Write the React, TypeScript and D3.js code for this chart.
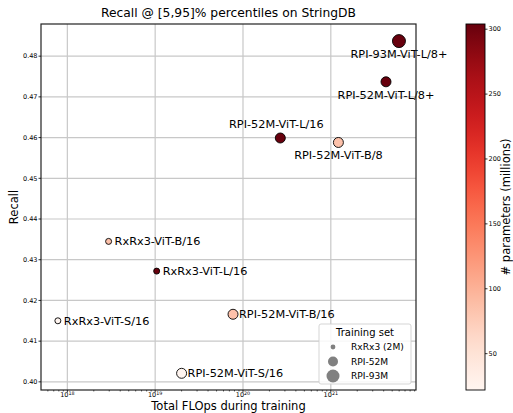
import React from 'react';
import * as d3 from 'd3';

// model names, training set, FLOPs, recall, params (millions)
const names = [
  'RPI-93M-ViT-L/8+',
  'RPI-52M-ViT-L/8+',
  'RPI-52M-ViT-L/16',
  'RPI-52M-ViT-B/8',
  'RxRx3-ViT-B/16',
  'RxRx3-ViT-L/16',
  'RxRx3-ViT-S/16',
  'RPI-52M-ViT-B/16',
  'RPI-52M-ViT-S/16',
];
const trainSets = ['RPI-93M', 'RPI-52M', 'RPI-52M', 'RPI-52M', 'RxRx3', 'RxRx3', 'RxRx3', 'RPI-52M', 'RPI-52M'];
const flops = [5.97e21, 4.25e21, 2.66e20, 1.22e21, 2.95e18, 1.04e19, 7.8e17, 7.7e19, 2.0e19];
const recall = [0.4837, 0.4737, 0.4599, 0.4588, 0.4345, 0.4272, 0.415, 0.4166, 0.4021];
const params = [304, 304, 304, 86, 86, 304, 22, 86, 22];
// label placement: 'below', 'above', 'right'
const labelPos = ['below', 'below', 'above', 'below', 'right', 'right', 'right', 'right', 'right'];

const yTicks = [0.4, 0.41, 0.42, 0.43, 0.44, 0.45, 0.46, 0.47, 0.48];
const xTicks = [18, 19, 20, 21];
const cbTicks = [50, 100, 150, 200, 250, 300];
const legendItems = ['RxRx3 (2M)', 'RPI-52M', 'RPI-93M'];
const legendKeys = ['RxRx3', 'RPI-52M', 'RPI-93M'];

const W = 513;
const H = 413;
const margin = { left: 41, top: 24, right: 416, bottom: 390 };
const cb = { x: 466, w: 19 };
const font = 'DejaVu Sans, sans-serif';

export default function App() {
  const x = d3.scaleLog().domain([10 ** 17.7, 10 ** 21.97]).range([margin.left, margin.right]);
  const y = d3.scaleLinear().domain([0.398, 0.4879]).range([margin.bottom, margin.top]);
  const color = d3.scaleSequential(d3.interpolateReds).domain([22, 304]);
  const cy = d3.scaleLinear().domain([22, 304]).range([margin.bottom, margin.top]);
  const size = d3.scaleOrdinal<string, number>().domain(['RxRx3', 'RPI-52M', 'RPI-93M']).range([3, 5, 6.5]);

  const minor: number[] = [];
  for (let e = 17; e <= 21; e++) {
    for (let m = 2; m <= 9; m++) {
      const v = m * 10 ** e;
      const [a, b] = x.domain();
      if (v > a && v < b) minor.push(v);
    }
  }

  const stops = d3.range(0, 1.0001, 0.05);

  return (
    <svg width={W} height={H} style={{ position: 'absolute', left: 0, top: 0 }} fontFamily={font}>
      <defs>
        <linearGradient id="cbgrad" x1="0" y1="1" x2="0" y2="0">
          {stops.map((s) => (
            <stop key={s} offset={s} stopColor={color(22 + s * (304 - 22))} />
          ))}
        </linearGradient>
      </defs>
      <rect width={W} height={H} fill="#fff" />

      {/* grid */}
      {yTicks.map((t) => (
        <line key={'gy' + t} x1={margin.left} x2={margin.right} y1={y(t)} y2={y(t)} stroke="#c8c8c8" strokeWidth={1.2} />
      ))}
      {xTicks.map((t) => (
        <line key={'gx' + t} x1={x(10 ** t)} x2={x(10 ** t)} y1={margin.top} y2={margin.bottom} stroke="#c8c8c8" strokeWidth={1.2} />
      ))}

      {/* points */}
      {names.map((n, i) => (
        <circle
          key={n}
          cx={x(flops[i])}
          cy={y(recall[i])}
          r={size(trainSets[i])}
          fill={color(params[i])}
          stroke="#000"
          strokeWidth={0.9}
        />
      ))}

      {/* labels */}
      {names.map((n, i) => {
        const px = x(flops[i]);
        const py = y(recall[i]);
        if (labelPos[i] === 'right') {
          return (
            <text key={'l' + n} x={px + 6} y={py + 4} fontSize={11.3} fill="#000">
              {n}
            </text>
          );
        }
        if (labelPos[i] === 'above') {
          return (
            <text key={'l' + n} x={px - 4} y={py - 10} fontSize={11.3} textAnchor="middle" fill="#000">
              {n}
            </text>
          );
        }
        return (
          <text key={'l' + n} x={px} y={py + 17} fontSize={11.3} textAnchor="middle" fill="#000">
            {n}
          </text>
        );
      })}

      {/* frame */}
      <rect x={margin.left} y={margin.top} width={margin.right - margin.left} height={margin.bottom - margin.top} fill="none" stroke="#222" strokeWidth={1.2} />

      {/* y ticks */}
      {yTicks.map((t) => (
        <g key={'yt' + t}>
          <line x1={margin.left - 2.5} x2={margin.left} y1={y(t)} y2={y(t)} stroke="#000" strokeWidth={0.8} />
          <text x={margin.left - 3.5} y={y(t) + 2.3} fontSize={6.5} textAnchor="end" fill="#000">
            {t.toFixed(2)}
          </text>
        </g>
      ))}

      {/* x ticks */}
      {xTicks.map((t) => (
        <g key={'xt' + t}>
          <line x1={x(10 ** t)} x2={x(10 ** t)} y1={margin.bottom} y2={margin.bottom + 2.5} stroke="#000" strokeWidth={0.8} />
          <text x={x(10 ** t)} y={margin.bottom + 7.3} fontSize={6.5} textAnchor="middle" fill="#000">
            10<tspan dy={-2.5} fontSize={4.8}>{t}</tspan>
          </text>
        </g>
      ))}
      {minor.map((v) => (
        <line key={'m' + v} x1={x(v)} x2={x(v)} y1={margin.bottom} y2={margin.bottom + 1.5} stroke="#000" strokeWidth={0.6} />
      ))}

      {/* title & axis labels */}
      <text x={(margin.left + margin.right) / 2} y={17} fontSize={12.3} textAnchor="middle" fill="#000">
        Recall @ [5,95]% percentiles on StringDB
      </text>
      <text x={(margin.left + margin.right) / 2} y={409.5} fontSize={11.5} textAnchor="middle" fill="#000">
        Total FLOps during training
      </text>
      <text transform={`translate(18,${(margin.top + margin.bottom) / 2}) rotate(-90)`} fontSize={11.5} textAnchor="middle" fill="#000">
        Recall
      </text>

      {/* legend */}
      <g>
        <rect x={319} y={324} width={92} height={60} rx={2} fill="#fff" fillOpacity={0.85} stroke="#d0d0d0" strokeWidth={0.9} />
        <text x={365} y={336} fontSize={10} textAnchor="middle" fill="#000">
          Training set
        </text>
        {legendItems.map((l, i) => (
          <g key={l}>
            <circle cx={333} cy={347 + i * 14.5} r={size(legendKeys[i]) - (i === 0 ? 0.6 : 0)} fill="#808080" />
            <text x={351} y={350.3 + i * 14.5} fontSize={9.1} fill="#000">
              {l}
            </text>
          </g>
        ))}
      </g>

      {/* colorbar */}
      <rect x={cb.x} y={margin.top} width={cb.w} height={margin.bottom - margin.top} fill="url(#cbgrad)" stroke="#000" strokeWidth={0.9} />
      {cbTicks.map((t) => (
        <g key={'cb' + t}>
          <line x1={cb.x + cb.w} x2={cb.x + cb.w + 2.5} y1={cy(t)} y2={cy(t)} stroke="#000" strokeWidth={0.8} />
          <text x={cb.x + cb.w + 3.5} y={cy(t) + 2.3} fontSize={6.5} fill="#000">
            {t}
          </text>
        </g>
      ))}
      <text transform={`translate(510,${(margin.top + margin.bottom) / 2}) rotate(-90)`} fontSize={11.5} textAnchor="middle" fill="#000">
        # parameters (millions)
      </text>
    </svg>
  );
}
